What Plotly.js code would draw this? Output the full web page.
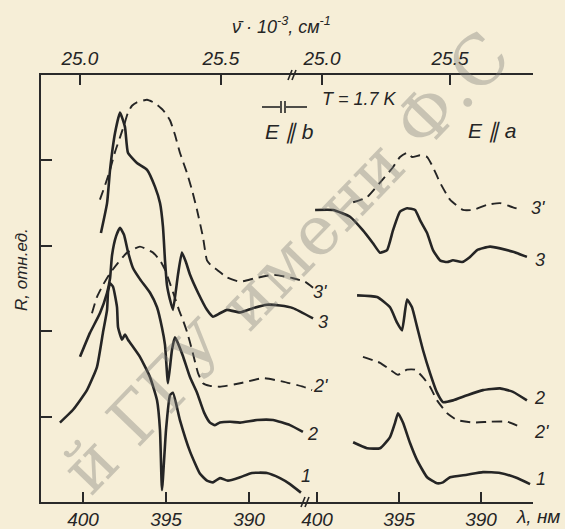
<!DOCTYPE html>
<html>
<head>
<meta charset="utf-8">
<script src="https://cdn.plot.ly/plotly-3.0.1.min.js"></script>
<style>html,body{margin:0;padding:0;background:#f6eed7;}#chart{width:565px;height:529px;}</style>
</head>
<body>
<div id="chart"></div>
<script>
// ---- tick values ----
const lambdaTicks = [400, 395, 390];
const lambdaTickText = ['400', '395', '390'];
const nuTicks = [25.0, 25.5];
const nuTickText = ['25.0', '25.5'];

// ---- left panel (E || b): wavelength, nm and R, arb. units ----
const lamL3d = [398.98,398.67,398.37,398.07,397.77,397.53,397.29,397.05,396.75,396.14,395.66,395.18,394.76,394.46,394.16,393.73,393.43,393.13,392.77,392.53,392.23,391.93,391.33,390.54,389.64,388.55,387.35,386.63,386.14];
const rL3d   = [3.54,3.71,3.89,4.10,4.27,4.41,4.56,4.64,4.68,4.71,4.67,4.59,4.47,4.30,4.09,3.85,3.65,3.42,3.10,2.83,2.76,2.72,2.63,2.58,2.62,2.66,2.62,2.58,2.51];

const lamL3 = [398.92,398.55,398.37,398.07,397.77,397.47,397.29,396.75,396.14,395.66,395.36,395.18,395.06,394.94,394.76,394.58,394.28,394.04,393.80,393.55,393.07,392.53,392.17,391.75,391.33,390.54,389.76,388.92,388.13,387.35,386.14];
const rL3   = [3.15,3.50,3.89,4.32,4.56,4.39,4.09,3.97,3.89,3.69,3.50,3.22,2.83,2.54,2.37,2.25,2.66,2.92,2.81,2.66,2.45,2.25,2.17,2.21,2.25,2.22,2.27,2.31,2.30,2.27,2.15];

const lamL2d = [399.46,399.16,398.80,398.37,397.89,397.35,396.57,395.78,395.36,395.06,394.76,394.46,394.22,393.98,393.73,393.43,393.07,392.77,392.35,391.75,390.54,389.16,387.95,386.75,386.20];
const rL2d   = [2.21,2.40,2.54,2.68,2.80,2.92,2.99,2.92,2.83,2.72,2.56,2.39,2.25,2.13,1.99,1.78,1.51,1.39,1.36,1.35,1.39,1.45,1.41,1.35,1.31];

const lamL2 = [400.18,399.58,398.98,398.55,398.37,398.25,398.01,397.77,397.53,397.29,396.99,396.57,395.96,395.54,395.24,395.06,394.88,394.64,394.46,394.28,393.98,393.55,393.13,392.71,392.35,392.05,391.75,391.14,390.54,389.52,388.55,387.53,386.75];
const rL2   = [1.70,1.98,2.21,2.45,2.62,2.89,3.11,3.21,3.13,2.93,2.74,2.61,2.45,2.28,2.04,1.84,1.39,1.78,1.93,1.86,1.71,1.46,1.28,1.05,0.93,0.90,0.93,0.94,0.93,0.96,0.96,0.90,0.82];

const lamL1 = [401.39,400.60,399.76,399.16,398.80,398.55,398.49,398.37,398.19,397.95,397.89,397.65,397.47,397.29,396.57,395.96,395.54,395.36,395.24,395.00,394.76,394.58,394.16,393.55,392.95,392.53,392.17,391.75,391.27,390.54,389.82,388.92,388.13,387.53,386.87];
const rL1   = [0.93,1.08,1.31,1.58,1.98,2.25,2.46,2.56,2.52,2.28,2.05,1.90,1.96,1.90,1.70,1.46,1.19,0.84,0.14,0.84,1.25,1.28,0.96,0.59,0.33,0.25,0.23,0.28,0.25,0.29,0.34,0.34,0.28,0.21,0.11];

// ---- right panel (E || a) ----
const lamR3d = [397.80,396.95,396.16,395.37,394.94,394.51,394.21,393.72,393.29,392.93,392.50,391.89,391.10,390.49,389.63,388.84,388.05,387.50];
const rR3d   = [3.51,3.57,3.74,3.92,4.04,4.09,4.04,4.06,4.04,3.92,3.74,3.54,3.42,3.42,3.48,3.50,3.45,3.42];

const lamR3 = [400.12,399.02,397.99,397.20,396.59,396.16,395.73,395.37,394.94,394.51,394.02,393.72,393.29,392.93,392.50,392.07,391.71,391.16,390.67,390.24,389.45,388.84,388.05,387.20];
const rR3   = [3.42,3.42,3.34,3.18,3.03,2.92,2.95,3.18,3.40,3.44,3.42,3.30,3.15,2.95,2.83,2.81,2.83,2.81,2.87,2.95,2.99,2.97,2.93,2.87];

const lamR2 = [397.56,396.34,395.55,395.12,394.82,394.51,394.21,393.90,393.54,393.11,392.68,392.32,391.71,390.85,389.88,388.84,388.05,387.20];
const rR2   = [2.42,2.40,2.28,2.10,2.01,2.37,2.28,2.05,1.78,1.51,1.28,1.17,1.19,1.25,1.31,1.33,1.29,1.19];

const lamR2d = [397.20,396.16,395.55,395.06,394.51,394.02,393.54,393.11,392.68,392.07,391.46,390.49,389.45,388.41,387.62];
const rR2d   = [1.70,1.63,1.55,1.49,1.55,1.55,1.46,1.35,1.19,1.04,0.96,0.93,0.94,0.94,0.88];

const lamR1 = [397.80,396.95,396.16,395.55,395.24,395.06,394.76,394.33,393.90,393.29,392.68,392.32,391.89,390.85,389.88,388.84,387.80,387.01];
const rR1   = [0.70,0.63,0.63,0.76,0.93,1.04,0.93,0.69,0.49,0.29,0.22,0.23,0.29,0.32,0.35,0.34,0.28,0.21];

// ---- drawing ----
const ink = '#252525';
const bg = '#f6eed7';
const tfont = 'Liberation Sans, Arial, sans-serif';
const solid = {color: ink, width: 2.6, shape: 'spline', smoothing: 0.45};
const dashed = {color: ink, width: 1.9, dash: '10px,6px', shape: 'spline', smoothing: 0.45};

function tr(x, y, line, xa) {
  return {x: x, y: y, xaxis: xa, yaxis: 'y', type: 'scatter', mode: 'lines', line: line, hoverinfo: 'skip', showlegend: false};
}
const data = [
  tr(lamL3d, rL3d, dashed, 'x'), tr(lamL3, rL3, solid, 'x'),
  tr(lamL2d, rL2d, dashed, 'x'), tr(lamL2, rL2, solid, 'x'),
  tr(lamL1, rL1, solid, 'x'),
  tr(lamR3d, rR3d, dashed, 'x2'), tr(lamR3, rR3, solid, 'x2'),
  tr(lamR2d, rR2d, dashed, 'x2'), tr(lamR2, rR2, solid, 'x2'),
  tr(lamR1, rR1, solid, 'x2'),
  // empty carriers so the top wavenumber axes are built (no visible marks)
  {x: nuTicks, y: [null, null], xaxis: 'x3', yaxis: 'y', type: 'scatter', mode: 'lines', hoverinfo: 'skip', showlegend: false},
  {x: nuTicks, y: [null, null], xaxis: 'x4', yaxis: 'y', type: 'scatter', mode: 'lines', hoverinfo: 'skip', showlegend: false}
];

// pixel -> paper helpers (plot area: x 41..533, y 75..502)
const W = 492, H = 427;
const px = x => (x - 41) / W;
const py = y => (502 - y) / H;

function ann(text, x, y, size, extra) {
  return Object.assign({text: text, x: px(x), y: py(y), xref: 'paper', yref: 'paper',
    showarrow: false, xanchor: 'center', yanchor: 'middle',
    font: {family: tfont, size: size, color: ink, style: 'italic'}}, extra || {});
}
function seg(x0, y0, x1, y1, w) {
  return {type: 'line', xref: 'paper', yref: 'paper', x0: px(x0), y0: py(y0), x1: px(x1), y1: py(y1),
    line: {color: ink, width: w || 1.6}};
}

const axBase = {showgrid: false, zeroline: false, showline: true, linecolor: '#2a2a2a', linewidth: 2,
  ticks: 'inside', ticklen: 10, tickwidth: 2, tickcolor: '#2a2a2a',
  tickfont: {family: tfont, size: 19, color: ink, style: 'italic'}, tickmode: 'array', fixedrange: true};

const layout = {
  width: 565, height: 529,
  margin: {l: 41, r: 32, t: 75, b: 27, pad: 0},
  paper_bgcolor: bg, plot_bgcolor: 'rgba(0,0,0,0)',
  showlegend: false,
  xaxis: Object.assign({}, axBase, {domain: [0, px(325)], range: [402.53, 385.42], anchor: 'y',
    tickvals: lambdaTicks, ticktext: lambdaTickText, ticklabelstandoff: -1}),
  xaxis2: Object.assign({}, axBase, {domain: [px(300), 1], range: [401.04, 386.83], anchor: 'y',
    tickvals: lambdaTicks, ticktext: lambdaTickText, ticklabelstandoff: -1}),
  xaxis3: Object.assign({}, axBase, {domain: [0, px(292)], range: [24.862, 25.752], anchor: 'y', side: 'top',
    tickvals: nuTicks, ticktext: nuTickText, ticklabelstandoff: 0}),
  xaxis4: Object.assign({}, axBase, {domain: [px(292), 1], range: [24.883, 25.824], anchor: 'y', side: 'top',
    tickvals: nuTicks, ticktext: nuTickText, ticklabelstandoff: 0}),
  yaxis: Object.assign({}, axBase, {domain: [0, 1], range: [0, 5], tickvals: [1, 2, 3, 4], showticklabels: false, ticklen: 11}),
  annotations: [
    ann('й ГГУ имени Ф.С', 285, 262, 68, {textangle: -46, font: {family: 'DejaVu Serif, serif', size: 68, color: 'rgba(125,125,120,0.38)'}}),
    ann('ν̄ · 10<sup>-3</sup>, см<sup>-1</sup>', 281, 25, 18),
    ann('T = 1.7 K', 359, 99, 18),
    ann('E ∥ b', 289, 132, 21),
    ann('E ∥ a', 492, 131, 21),
    ann('λ, нм', 538, 516, 19),
    ann('R, отн.ед.', 21, 270, 17, {textangle: -90}),
    ann("3'", 320, 292, 18), ann('3', 323, 322, 18), ann("2'", 320, 386, 18),
    ann('2', 312, 434, 18), ann('1', 306, 476, 18),
    ann("3'", 538, 208, 18), ann('3', 540, 260, 18), ann('2', 539, 398, 18),
    ann("2'", 541, 432, 18), ann('1', 541, 479, 18)
  ],
  shapes: [
    // polarizer symbol
    seg(262, 107, 280, 107), seg(286, 107, 307, 107), seg(281, 101, 281, 113), seg(285, 101, 285, 113),
    // axis break marks
    seg(288, 80, 292, 70), seg(292, 80, 296, 70),
    seg(301, 507, 305, 497), seg(305, 507, 309, 497)
  ]
};

Plotly.newPlot('chart', data, layout, {staticPlot: true, displayModeBar: false});
</script>
</body>
</html>
